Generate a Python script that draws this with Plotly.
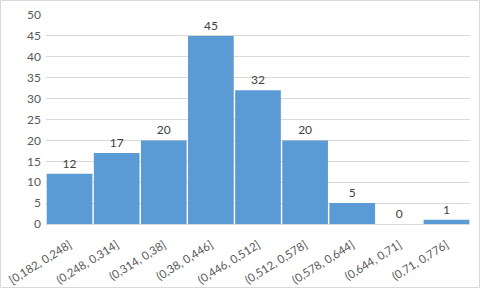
import plotly.graph_objects as go

categories = ["[0,182, 0,248]", "(0,248, 0,314]", "(0,314, 0,38]", "(0,38, 0,446]",
              "(0,446, 0,512]", "(0,512, 0,578]", "(0,578, 0,644]", "(0,644, 0,71]",
              "(0,71, 0,776]"]
counts = [12, 17, 20, 45, 32, 20, 5, 0, 1]
y_ticks = [0, 5, 10, 15, 20, 25, 30, 35, 40, 45, 50]

W, H = 480, 288
ml, mr, mt, mb = 46, 10, 15, 64
pw = W - ml - mr
ph = H - mt - mb
FONT = "Lato, Open Sans, sans-serif"

fig = go.Figure(go.Bar(
    x=categories, y=counts, text=[str(c) for c in counts], textposition="outside",
    textfont=dict(size=12, color="#404040", family=FONT),
    outsidetextfont=dict(size=12, color="#404040", family=FONT),
    marker=dict(color="#5B9BD5", line=dict(width=0)), cliponaxis=False,
))
fig.update_layout(
    width=W, height=H, margin=dict(l=ml, r=mr, t=mt, b=mb, autoexpand=False),
    paper_bgcolor="white", plot_bgcolor="white", bargap=0.03, showlegend=False,
    font=dict(family=FONT, color="#595959", size=12),
    xaxis=dict(tickangle=-32, showgrid=False, showline=True, linecolor="#D9D9D9",
               tickfont=dict(size=11.5, color="#595959"), ticks="", automargin=False,
               ticklabelstandoff=9),
    yaxis=dict(range=[0, 50], tickvals=y_ticks, showgrid=True, gridcolor="#D9D9D9",
               zeroline=False, showline=False, tickfont=dict(size=12, color="#595959"),
               ticks="", automargin=False, ticklabelstandoff=4),
    shapes=[dict(type="rect", xref="paper", yref="paper",
                 x0=(0.5 - ml) / pw, x1=(W - 0.5 - ml) / pw,
                 y0=-(mb - 0.5) / ph, y1=(H - mb - 0.5) / ph,
                 line=dict(color="#D9D9D9", width=1))],
)
fig.write_html("out.html", config={"displayModeBar": False},
               post_script="document.body.style.margin='0px';document.body.style.overflow='hidden';")
